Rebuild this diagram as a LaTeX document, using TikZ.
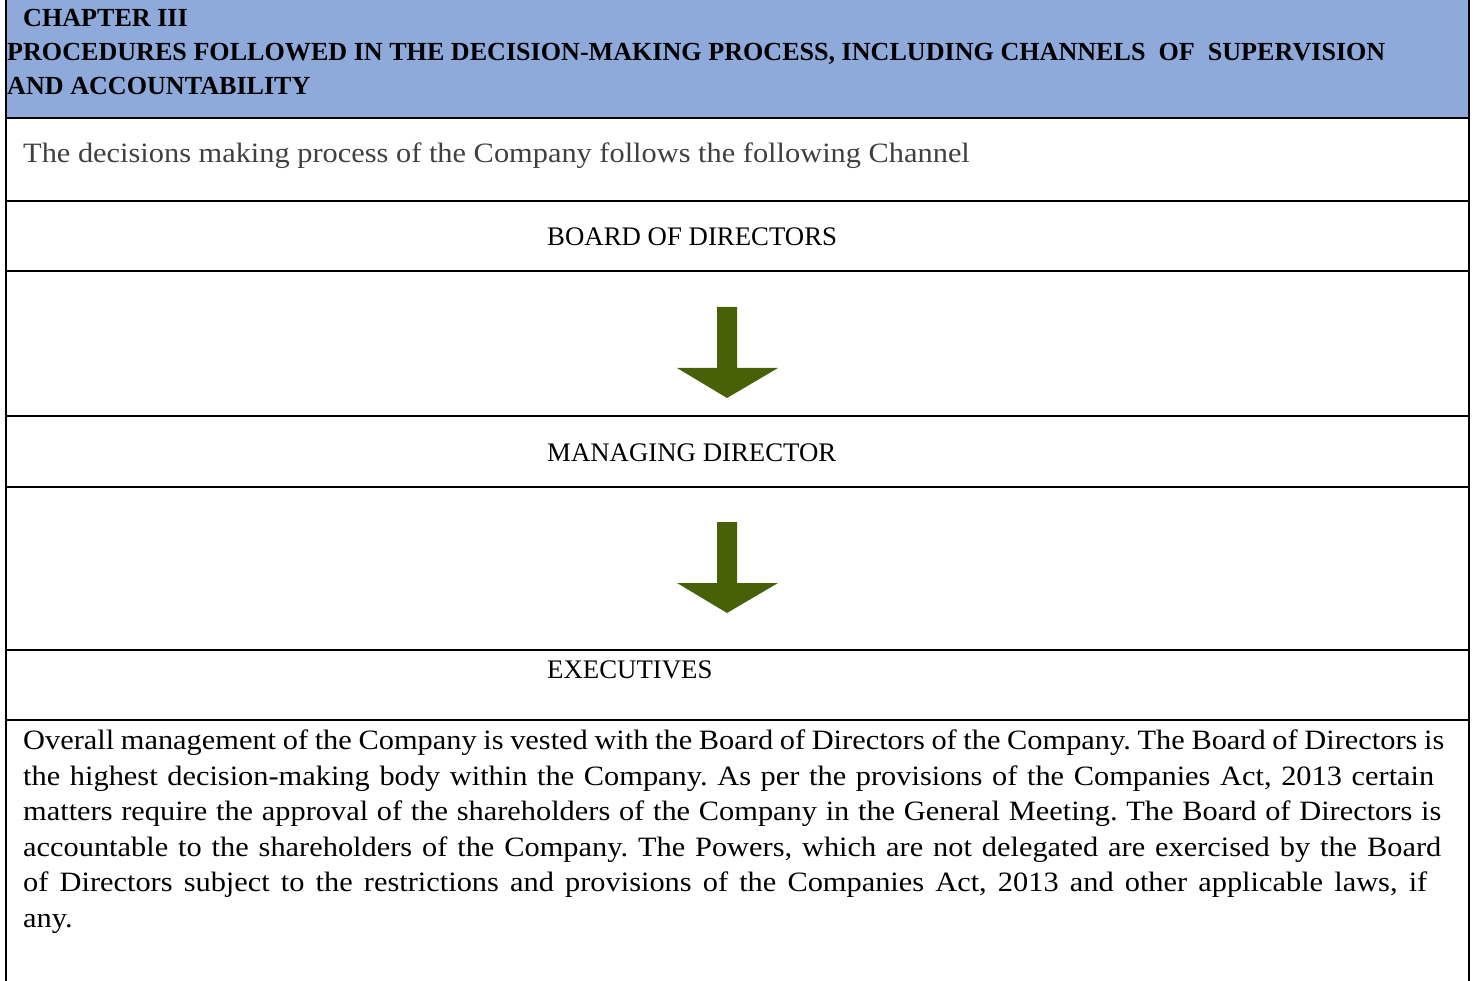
\documentclass[tikz,border=0pt]{standalone}
\usepackage{fontspec}
\setmainfont{Liberation Serif}
\newfontfamily\bodyfont[FakeStretch=1.085]{Liberation Serif}
\frenchspacing
\definecolor{hdrblue}{HTML}{8EAADB}
\definecolor{arrgreen}{RGB}{72,97,8}
\definecolor{graytext}{HTML}{404040}
\tikzset{
  rule/.style={line width=2pt, black},
  bodytext/.style={anchor=base west, inner sep=0pt, font=\bodyfont\fontsize{28}{34}\selectfont},
  hdrtext/.style={anchor=base west, inner sep=0pt, font=\fontsize{26.1}{30}\selectfont\bfseries},
  label/.style={anchor=base west, inner sep=0pt, font=\fontsize{26.8}{32}\selectfont},
  blockarrow/.style={fill=arrgreen, draw=none}
}
\begin{document}
\begin{tikzpicture}[x=1pt,y=-1pt]
\useasboundingbox (0,0) rectangle (1478,981);
\fill[white] (0,0) rectangle (1478,981);
% header band
\fill[hdrblue] (6,0) rectangle (1469,118.5);
% horizontal rules
\foreach \yy in {118.5,201,271,416,487,650,720}
  \draw[rule] (6,\yy) -- (1469,\yy);
% side borders
\draw[rule] (6,0) -- (6,981);
\draw[rule] (1469,0) -- (1469,981);
% header text
\node[hdrtext] (chap) at (23,27) {CHAPTER III};
\node[hdrtext] (title1) at (7,61) {PROCEDURES FOLLOWED IN THE DECISION-MAKING PROCESS, INCLUDING CHANNELS\ \ OF\ \ SUPERVISION};
\node[hdrtext] (title2) at (7,95) {AND ACCOUNTABILITY};
% intro
\node[bodytext, text=graytext] (intro) at (23,163) {The decisions making process of the Company follows the following Channel};
% labels
\node[label] (board) at (547,246) {BOARD OF DIRECTORS};
\node[label] (md) at (547,461) {MANAGING DIRECTOR};
\node[label] (exec) at (547,678) {EXECUTIVES};
% block arrows
\coordinate (a1) at (727,307);
\coordinate (a2) at (727,522);
\foreach \c in {a1,a2}{
  \fill[blockarrow] ([xshift=-10pt]\c) -- ([xshift=10pt]\c) -- ([shift={(10pt,-61pt)}]\c) -- ([shift={(51pt,-61pt)}]\c)
     -- ([shift={(0pt,-91pt)}]\c) -- ([shift={(-50pt,-61pt)}]\c) -- ([shift={(-10pt,-61pt)}]\c) -- cycle;
}
% paragraph
\node[bodytext] (p1) at (23,749) {\makebox[1421pt][s]{Overall management of the Company is vested with the Board of Directors of the Company. The Board of Directors is}};
\node[bodytext] (p2) at (23,785) {\makebox[1411pt][s]{the highest decision-making body within the Company. As per the provisions of the Companies Act, 2013 certain}};
\node[bodytext] (p3) at (23,820) {\makebox[1418pt][s]{matters require the approval of the shareholders of the Company in the General Meeting. The Board of Directors is}};
\node[bodytext] (p4) at (23,856) {\makebox[1418pt][s]{accountable to the shareholders of the Company. The Powers, which are not delegated are exercised by the Board}};
\node[bodytext] (p5) at (23,891) {\makebox[1404pt][s]{of Directors subject to the restrictions and provisions of the Companies Act, 2013 and other applicable laws, if}};
\node[bodytext] (p6) at (23,927) {any.};
\end{tikzpicture}
\end{document}
